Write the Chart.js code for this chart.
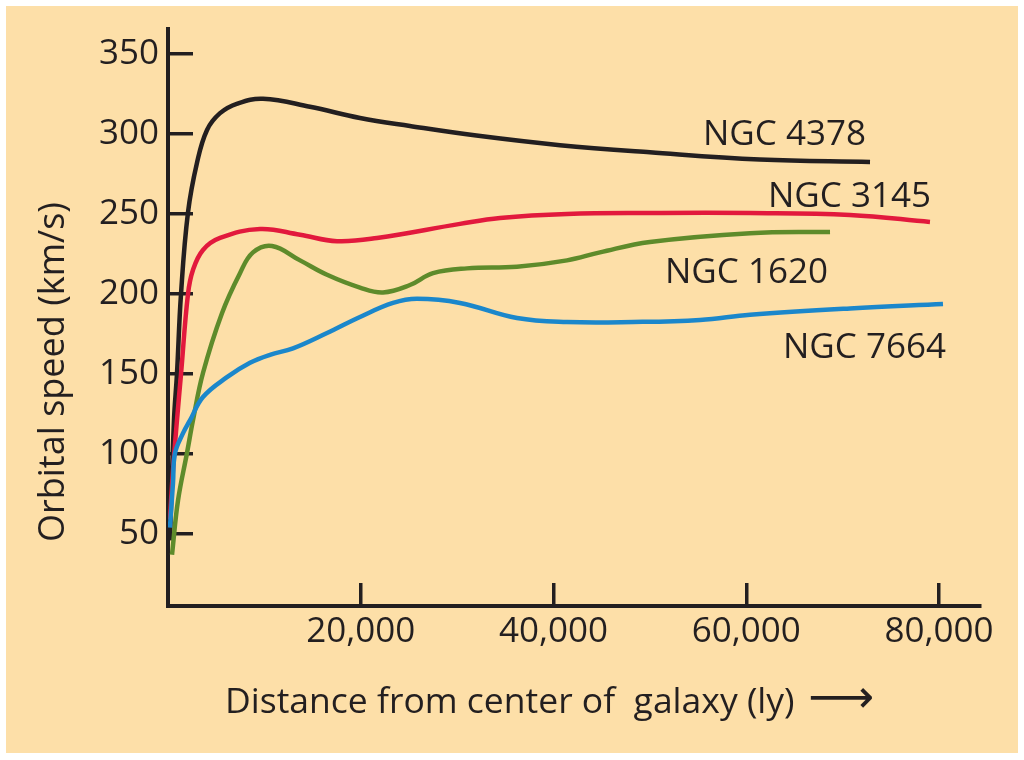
<!DOCTYPE html>
<html><head><meta charset="utf-8">
<script src="https://cdn.jsdelivr.net/npm/chart.js@4.4.1/dist/chart.umd.min.js"></script>
<style>html,body{margin:0;padding:0;background:#fff;}canvas{display:block;}</style>
</head><body>
<canvas id="c" width="1024" height="760"></canvas>
<script>
// ---- data (distance in light-years, orbital speed in km/s) ----
const galaxyNames = ['NGC 4378', 'NGC 3145', 'NGC 1620', 'NGC 7664'];

const distNGC4378  = [200, 620, 930, 1350, 2075, 3010, 4050, 5400, 7200, 9860, 14730, 19920, 25100, 32000, 40670, 50000, 61400, 72840];
const speedNGC4378 = [46, 121, 150, 200, 251, 282, 302.5, 313, 319, 322, 317, 310, 305, 299, 293, 288.5, 284, 282.5];

const distNGC3145  = [200, 520, 930, 1350, 2075, 2590, 3630, 5400, 9545, 13700, 17535, 21685, 30300, 34450, 41400, 50000, 60390, 70760, 79060];
const speedNGC3145 = [59, 90, 121, 150, 200, 215, 227.5, 235, 240.6, 237, 233, 235, 243.8, 247.5, 250, 250.6, 250.6, 249.4, 245];

const distNGC1620  = [415, 1040, 1970, 2590, 3630, 5600, 7470, 8820, 10790, 13700, 16500, 19920, 22310, 25100, 27500, 31020, 36210, 41400, 44820, 50000, 60390, 68690];
const speedNGC1620 = [37, 71, 100.6, 121, 150.6, 188, 213, 226, 230, 221, 212, 204, 201, 205.6, 213, 216, 217, 221, 226, 232.5, 238, 238.8];

const distNGC7664  = [200, 520, 730, 1560, 2280, 3630, 6120, 8510, 10580, 12970, 16500, 19920, 23345, 25835, 30300, 36210, 41400, 48250, 55200, 60390, 70760, 80410];
const speedNGC7664 = [54, 82, 100.6, 113, 121, 135.6, 148, 157, 162, 166, 175.6, 185.6, 194.4, 197, 194.4, 185, 182.5, 182.5, 183.8, 187, 191, 193.8];

const xTickValues = [20000, 40000, 60000, 80000];
const yTickValues = [50, 100, 150, 200, 250, 300, 350];

const xTitle = 'Distance from center of  galaxy (ly)';
const yTitle = 'Orbital speed (km/s)';
const arrowGlyph = '\u27F6';

// ---- styling ----
const INK = '#231F20';
const BG = '#FDDFA8';
const lineColors = ['#231F20', '#E2193D', '#5E8B2B', '#1B87CB'];
const FONT = '"Open Sans", "Noto Sans", sans-serif';

function pts(xs, ys) { return xs.map((x, i) => ({ x: x, y: ys[i] })); }
const seriesX = [distNGC4378, distNGC3145, distNGC1620, distNGC7664];
const seriesY = [speedNGC4378, speedNGC3145, speedNGC1620, speedNGC7664];

const datasets = galaxyNames.map((name, i) => ({
  label: name,
  data: pts(seriesX[i], seriesY[i]),
  borderColor: lineColors[i],
  backgroundColor: lineColors[i],
  borderWidth: 4.5,
  pointRadius: 0,
  fill: false,
  tension: 0.4,
  borderCapStyle: 'butt',
  order: 3 - i
}));

// label placements (pixel layout)
const labelPlacement = [
  { x: 703, y: 145 },
  { x: 768, y: 207 },
  { x: 665, y: 283 },
  { x: 783, y: 358 }
];

const decor = {
  id: 'decor',
  beforeDraw(chart) {
    const c = chart.ctx;
    c.save();
    c.fillStyle = '#ffffff';
    c.fillRect(0, 0, chart.width, chart.height);
    c.fillStyle = BG;
    c.fillRect(6, 6, 1012, 747);
    c.restore();
  },
  afterDraw(chart) {
    const c = chart.ctx;
    c.save();
    c.fillStyle = INK;
    c.textBaseline = 'alphabetic';
    c.textAlign = 'left';
    c.font = '35px ' + FONT;
    galaxyNames.forEach((n, i) => c.fillText(n, labelPlacement[i].x, labelPlacement[i].y));
    // x title
    c.font = '35.5px ' + FONT;
    c.fillText(xTitle, 225, 713);
    c.font = '46px "DejaVu Sans", sans-serif';
    c.fillText(arrowGlyph, 808, 712);
    // y title
    c.font = '36px ' + FONT;
    c.translate(64, 372);
    c.rotate(-Math.PI / 2);
    c.textAlign = 'center';
    c.fillText(yTitle, 0, 0);
    c.restore();
  }
};

new Chart(document.getElementById('c'), {
  type: 'line',
  data: { datasets: datasets },
  plugins: [decor],
  options: {
    responsive: false,
    animation: false,
    devicePixelRatio: 1,
    layout: { padding: { left: 0, right: 44, top: 29, bottom: 0 } },
    plugins: { legend: { display: false }, tooltip: { enabled: false } },
    scales: {
      x: {
        type: 'linear',
        min: 0,
        max: 84250,
        afterBuildTicks: (s) => { s.ticks = xTickValues.map(v => ({ value: v })); },
        afterFit: (s) => { s.height = 154; s.paddingLeft = 0; s.paddingRight = 0; },
        border: { display: true, color: INK, width: 4 },
        grid: { display: true, drawOnChartArea: false, drawTicks: true, tickLength: -23, tickWidth: 3.5, tickColor: INK, color: INK, lineWidth: 3.5 },
        ticks: {
          color: INK,
          font: { family: FONT, size: 35 },
          padding: 23 + 5,
          maxRotation: 0,
          autoSkip: false,
          callback: (v) => v.toLocaleString('en-US')
        }
      },
      y: {
        type: 'linear',
        min: 5,
        max: 365.6,
        afterBuildTicks: (s) => { s.ticks = yTickValues.map(v => ({ value: v })); },
        afterFit: (s) => { s.width = 168; s.paddingTop = 0; s.paddingBottom = 0; },
        border: { display: true, color: INK, width: 4 },
        grid: { display: true, drawOnChartArea: false, drawTicks: true, tickLength: -25, tickWidth: 3.5, tickColor: INK, color: INK, lineWidth: 3.5 },
        ticks: {
          color: INK,
          font: { family: FONT, size: 35 },
          padding: 25 + 9,
          autoSkip: false,
          callback: (v) => String(v)
        }
      }
    }
  }
});
</script>
</body></html>
